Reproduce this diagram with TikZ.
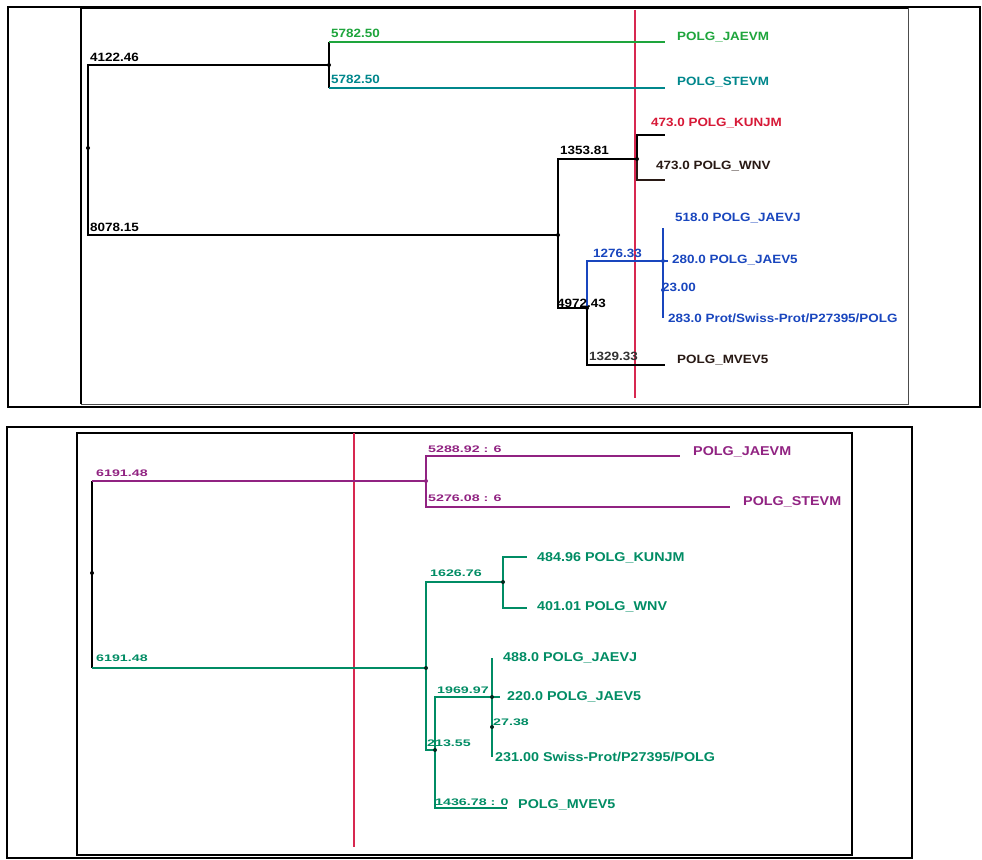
\documentclass[tikz,border=0pt]{standalone}
\usepackage{fontspec}
\setmainfont{Liberation Sans}
\newfontfamily\fa[FakeStretch=1.12]{Liberation Sans}
\newfontfamily\fb[FakeStretch=1.5]{Liberation Sans}
\definecolor{tgreen}{RGB}{30,165,60}
\definecolor{tteal}{RGB}{0,135,140}
\definecolor{tred}{RGB}{215,25,55}
\definecolor{tblue}{RGB}{25,70,190}
\definecolor{tdark}{RGB}{40,25,20}
\definecolor{vline}{RGB}{215,40,80}
\definecolor{bpurp}{RGB}{145,35,130}
\definecolor{bgreen}{RGB}{0,140,100}
\tikzset{
  lab/.style={anchor=west, inner sep=0pt, font=\fa\bfseries\fontsize{12}{12}\selectfont},
  blab/.style={anchor=west, inner sep=0pt, font=\fa\bfseries\fontsize{12.8}{13}\selectfont},
  ilab/.style={anchor=west, inner sep=0pt, font=\fb\bfseries\fontsize{9.5}{10}\selectfont},
  br/.style={line width=1.3pt},
  dotn/.style={circle, fill=#1, inner sep=0pt, minimum size=4pt},
  frameouter/.style={draw=black, line width=1.8pt},
}
\begin{document}
\begin{tikzpicture}[x=1pt,y=-1pt]
\useasboundingbox (0,0) rectangle (982,859);
\fill[white] (0,0) rectangle (982,859);
% ---------------- top panel ----------------
\draw[frameouter] (8,7) rectangle (980,407);
\draw[line width=1pt, black!70] (81,404) -- (908,404) -- (908,8);
\draw[line width=2.6pt] (81,404) -- (81,8) -- (908,8);
% red vertical
\coordinate (tvA) at (635,10);
\coordinate (tvB) at (635,398);
\draw[vline, line width=1.3pt] (tvA) -- (tvB);
% coordinates
\coordinate (r1) at (88,148);
\coordinate (a1) at (329,65);
\coordinate (gj) at (665,42);
\coordinate (gs) at (665,88);
\coordinate (b1) at (558,235);
\coordinate (c1) at (637,159);
\coordinate (kk) at (665,135);
\coordinate (ww) at (665,180);
\coordinate (d1) at (587,308);
\coordinate (e1) at (663,261);
\coordinate (jj) at (663,228);
\coordinate (f1) at (663,290);
\coordinate (pp) at (663,318);
\coordinate (j5) at (668,261);
\coordinate (mm) at (665,365);
% branches
\draw[br] (r1) |- (a1);
\draw[br] (r1) |- (b1);
\draw[br] (a1) -- (a1 |- gj);
\draw[br] (a1) -- (a1 |- gs);
\draw[br, tgreen] (a1 |- gj) -- (gj);
\draw[br, tteal] (a1 |- gs) -- (gs);
\draw[br] (b1) |- (c1);
\draw[br] (b1) |- (d1);
\draw[br] (c1) |- (kk);
\draw[br, tdark] (c1) |- (ww);
\draw[br] (d1) |- (mm);
\draw[br, tblue] (d1) |- (e1);
\draw[br, tblue] (e1) -- (jj);
\draw[br, tblue] (e1) -- (pp);
\draw[br, tblue] (e1) -- (j5);
% dots
\node[dotn=black] (r1d) at (r1) {};
\node[dotn=black] (a1d) at (a1) {};
\node[dotn=black] (b1d) at (b1) {};
\node[dotn=black] (c1d) at (c1) {};
\node[dotn=black] (d1d) at (d1) {};
\node[dotn=tblue] (e1d) at (e1) {};
\node[dotn=tblue] (f1d) at (f1) {};
% labels
\node[lab] (l4122) at (90,57) {4122.46};
\node[lab, tgreen] (l5782a) at (331,33) {5782.50};
\node[lab, tteal] (l5782b) at (331,79) {5782.50};
\node[lab, tgreen] (tJAEVM) at (677,37) {POLG\_JAEVM};
\node[lab, tteal] (tSTEVM) at (677,82) {POLG\_STEVM};
\node[lab] (l8078) at (90,227) {8078.15};
\node[lab] (l1353) at (560,150) {1353.81};
\node[lab, tred] (tKUNJM) at (651,123) {473.0 POLG\_KUNJM};
\node[lab, tdark] (tWNV) at (656,166) {473.0 POLG\_WNV};
\node[lab, tblue] (tJAEVJ) at (675,218) {518.0 POLG\_JAEVJ};
\node[lab, tblue] (l1276) at (593,253) {1276.33};
\node[lab, tblue] (tJAEV5) at (672,260) {280.0 POLG\_JAEV5};
\node[lab, tblue] (l23) at (662,287) {23.00};
\node[lab, tblue] (tP27) at (668,318) {283.0 Prot/Swiss-Prot/P27395/POLG};
\node[lab] (l4972) at (557,303) {4972.43};
\node[lab, black!80] (l1329) at (589,356) {1329.33};
\node[lab, tdark] (tMVEV5) at (677,360) {POLG\_MVEV5};
% ---------------- bottom panel ----------------
\draw[frameouter] (7,427) rectangle (912,858);
\draw[line width=2.4pt] (77,433) rectangle (852,855);
\coordinate (bvA) at (354,433);
\coordinate (bvB) at (354,847);
\draw[vline, line width=1.4pt] (bvA) -- (bvB);
\coordinate (r2) at (92,573);
\coordinate (p1) at (426,481);
\coordinate (pj) at (680,456);
\coordinate (ps) at (730,507);
\coordinate (g1) at (426,668);
\coordinate (h1) at (503,582);
\coordinate (hk) at (527,557);
\coordinate (hw) at (527,608);
\coordinate (i1) at (435,750);
\coordinate (k1) at (492,697);
\coordinate (kj) at (492,658);
\coordinate (k5) at (500,697);
\coordinate (m1) at (492,727);
\coordinate (mp) at (492,757);
\coordinate (mv) at (507,808);
\draw[br] (r2) -- (r2 |- p1);
\draw[br] (r2) -- (r2 |- g1);
\draw[br, bpurp] (r2 |- p1) -- (p1);
\draw[br, bgreen] (r2 |- g1) -- (g1);
\draw[br, bpurp] (p1) |- (pj);
\draw[br, bpurp] (p1) |- (ps);
\draw[br, bgreen] (g1) |- (h1);
\draw[br, bgreen] (g1) |- (i1);
\draw[br, bgreen] (h1) |- (hk);
\draw[br, bgreen] (h1) |- (hw);
\draw[br, bgreen] (i1) |- (k1);
\draw[br, bgreen] (i1) |- (mv);
\draw[br, bgreen] (k1) -- (kj);
\draw[br, bgreen] (k1) -- (mp);
\draw[br, bgreen] (k1) -- (k5);
\node[dotn=black] (r2d) at (r2) {};
\node[dotn=bpurp] (p1d) at (p1) {};
\node[dotn=black!70!bgreen] (g1d) at (g1) {};
\node[dotn=black!70!bgreen] (h1d) at (h1) {};
\node[dotn=black!70!bgreen] (i1d) at (i1) {};
\node[dotn=black!70!bgreen] (k1d) at (k1) {};
\node[dotn=black!70!bgreen] (m1d) at (m1) {};
\node[ilab, bpurp] (b6191a) at (96,473) {6191.48};
\node[ilab, bpurp] (b5288) at (428,449) {5288.92 : 6};
\node[blab, bpurp] (bJAEVM) at (693,452) {POLG\_JAEVM};
\node[ilab, bpurp] (b5276) at (428,498) {5276.08 : 6};
\node[blab, bpurp] (bSTEVM) at (743,502) {POLG\_STEVM};
\node[ilab, bgreen] (b6191b) at (96,658) {6191.48};
\node[ilab, bgreen] (b1626) at (430,573) {1626.76};
\node[blab, bgreen] (bKUNJM) at (537,558) {484.96 POLG\_KUNJM};
\node[blab, bgreen] (bWNV) at (537,607) {401.01 POLG\_WNV};
\node[blab, bgreen] (bJAEVJ) at (503,658) {488.0 POLG\_JAEVJ};
\node[ilab, bgreen] (b1969) at (437,690) {1969.97};
\node[blab, bgreen] (bJAEV5) at (507,697) {220.0 POLG\_JAEV5};
\node[ilab, bgreen] (b2738) at (493,722) {27.38};
\node[ilab, bgreen] (b21355) at (427,743) {213.55};
\node[blab, bgreen] (bP27) at (495,757) {231.00 Swiss-Prot/P27395/POLG};
\node[ilab, bgreen] (b1436) at (435,802) {1436.78 : 0};
\node[blab, bgreen] (bMVEV5) at (518,805) {POLG\_MVEV5};
\end{tikzpicture}
\end{document}
